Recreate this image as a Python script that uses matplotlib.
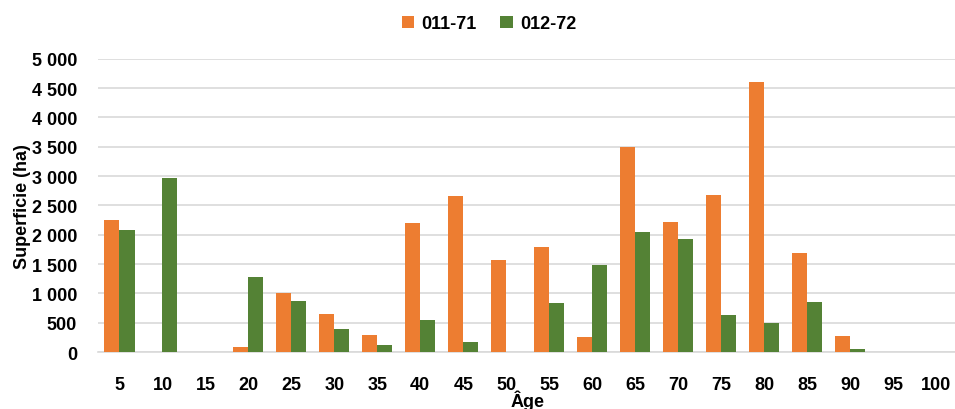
import numpy as np
import matplotlib.pyplot as plt
from matplotlib.ticker import FuncFormatter

# Data
ages = [5, 10, 15, 20, 25, 30, 35, 40, 45, 50, 55, 60, 65, 70, 75, 80, 85, 90, 95, 100]
s_011_71 = [2260, 0, 0, 85, 1005, 648, 290, 2200, 2665, 1568, 1795, 256, 3505, 2222, 2682, 4597, 1693, 267, 0, 0]
s_012_72 = [2080, 2960, 0, 1278, 864, 398, 125, 551, 170, 0, 835, 1477, 2045, 1920, 625, 489, 847, 51, 0, 0]

plt.rcParams['font.family'] = ['Liberation Sans', 'DejaVu Sans']
plt.rcParams['font.weight'] = 'bold'

fig = plt.figure(figsize=(9.55, 4.10), dpi=100)
ax = fig.add_axes([0.1026, 0.139, 0.9, 0.715])

x = np.arange(len(ages))
w = 0.35
ax.bar(x - w / 2, s_011_71, width=w, color='#ED7D31', label='011-71', zorder=3)
ax.bar(x + w / 2, s_012_72, width=w, color='#548235', label='012-72', zorder=3)

ax.set_xlim(-0.5, len(ages) - 0.5)
ax.set_ylim(0, 5000)
ax.set_yticks(np.arange(0, 5001, 500))
ax.yaxis.set_major_formatter(FuncFormatter(lambda v, p: f"{int(v):,}".replace(",", " ")))
ax.set_xticks(x)
ax.set_xticklabels([str(a) for a in ages])

ax.grid(axis='y', color='#D9D9D9', linewidth=1.2, zorder=0)
for s in ['top', 'right', 'left']:
    ax.spines[s].set_visible(False)
ax.spines['bottom'].set_color('#D9D9D9')
ax.spines['bottom'].set_linewidth(1.2)
ax.tick_params(length=0, labelsize=13)
ax.tick_params(axis='x', pad=17)
ax.tick_params(axis='y', pad=15)

ax.set_ylabel('Superficie (ha)', fontsize=13, fontweight='bold')
ax.yaxis.set_label_coords(-0.078, 0.5)
ax.set_xlabel('Âge', fontsize=13, fontweight='bold')
ax.xaxis.set_label_coords(0.5, -0.127)

fig.legend(loc='upper center', bbox_to_anchor=(0.512, 1.0), ncol=2, frameon=False,
           fontsize=13, handlelength=0.7, handleheight=0.7, columnspacing=1.3,
           handletextpad=0.4)

fig.savefig('out.png', dpi=100)
